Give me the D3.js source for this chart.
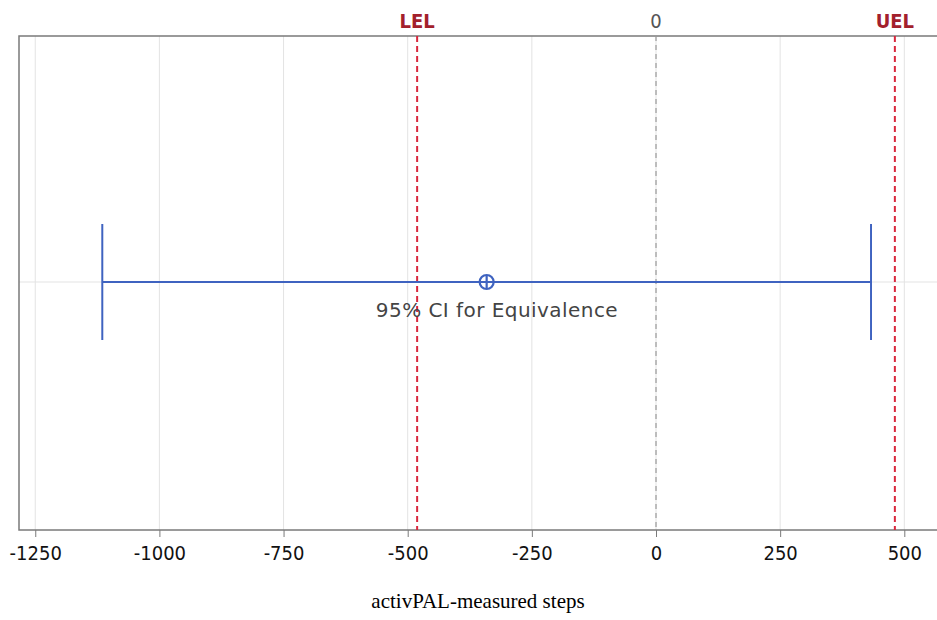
<!DOCTYPE html>
<meta charset="utf-8">
<style>body{margin:0;background:#fff}</style>
<svg width="937" height="620"></svg>
<script src="https://d3js.org/d3.v7.min.js"></script>
<script>
// equivalence test, activPAL steps
var ticks = [-1250, -1000, -750, -500, -250, 0, 250, 500];
var limits = [{name: "LEL", value: -481}, {name: "UEL", value: 481}];
var ci = [-1115, 433];
var estimate = -341;
var ciLabel = "95% CI for Equivalence";
var xTitle = "activPAL-measured steps";

var svg = d3.select("svg"),
    pLeft = 19, pRight = 960, pTop = 36, pBottom = 530,
    midY = 282;
var condensed = "'DejaVu Sans Condensed', 'DejaVu Sans', sans-serif";

var x = d3.scaleLinear()
    .domain([(pLeft - 656) / 0.4966, (pRight - 656) / 0.4966])
    .range([pLeft, pRight]);

// grid
svg.append("g").selectAll("line").data(ticks).enter().append("line")
    .attr("x1", function(d) { return x(d); }).attr("x2", function(d) { return x(d); })
    .attr("y1", pTop).attr("y2", pBottom)
    .attr("stroke", "#e3e3e3").attr("stroke-width", 1);
svg.append("line")
    .attr("x1", pLeft).attr("x2", pRight).attr("y1", midY).attr("y2", midY)
    .attr("stroke", "#e3e3e3");

// frame
svg.append("rect")
    .attr("x", pLeft).attr("y", pTop).attr("width", pRight - pLeft).attr("height", pBottom - pTop)
    .attr("fill", "none").attr("stroke", "#7a7a7a").attr("stroke-width", 1.5);

// bottom axis
var axis = d3.axisBottom(x).tickValues(ticks).tickFormat(d3.format("d")).tickSize(7).tickPadding(9);
var ax = svg.append("g").attr("transform", "translate(0," + pBottom + ")").call(axis);
ax.select(".domain").remove();
ax.selectAll(".tick line").attr("stroke", "#7a7a7a");
ax.selectAll(".tick text")
    .attr("fill", "#111")
    .style("font-family", condensed)
    .style("font-size", "20px")
    .text(function(d) { return String(d); });

// zero line
svg.append("line")
    .attr("x1", x(0)).attr("x2", x(0)).attr("y1", pTop).attr("y2", pBottom)
    .attr("stroke", "#9a9a9a").attr("stroke-width", 1.2).attr("stroke-dasharray", "5,4");
svg.append("text").attr("x", x(0)).attr("y", 28)
    .attr("text-anchor", "middle").attr("fill", "#555")
    .style("font-family", condensed)
    .style("font-size", "20px").text("0");

// equivalence limits
var lim = svg.append("g").selectAll("g").data(limits).enter().append("g");
lim.append("line")
    .attr("x1", function(d) { return x(d.value); }).attr("x2", function(d) { return x(d.value); })
    .attr("y1", pTop).attr("y2", pBottom)
    .attr("stroke", "#d8283d").attr("stroke-width", 2).attr("stroke-dasharray", "6,4");
lim.append("text")
    .attr("x", function(d) { return x(d.value); }).attr("y", 28)
    .attr("text-anchor", "middle").attr("fill", "#a3202c")
    .style("font-family", condensed)
    .style("font-size", "20px").style("font-weight", "bold")
    .text(function(d) { return d.name; });

// CI
var blue = "#3f63c0";
svg.append("line")
    .attr("x1", x(ci[0])).attr("x2", x(ci[1])).attr("y1", midY).attr("y2", midY)
    .attr("stroke", blue).attr("stroke-width", 2);
svg.append("g").selectAll("line").data(ci).enter().append("line")
    .attr("x1", function(d) { return x(d); }).attr("x2", function(d) { return x(d); })
    .attr("y1", 224).attr("y2", 340)
    .attr("stroke", blue).attr("stroke-width", 2);

var pt = svg.append("g").attr("transform", "translate(" + x(estimate) + "," + midY + ")");
pt.append("circle").attr("r", 7).attr("fill", "none").attr("stroke", blue).attr("stroke-width", 2.2);
pt.append("path").attr("d", "M-7,0H7M0,-7V7").attr("stroke", blue).attr("stroke-width", 2.2);

svg.append("text")
    .attr("x", 497).attr("y", 317)
    .attr("text-anchor", "middle").attr("fill", "#444")
    .style("font-family", "'DejaVu Sans', sans-serif").style("font-size", "20px")
    .style("letter-spacing", "0.45px")
    .text(ciLabel);

// x title
svg.append("text")
    .attr("x", 478).attr("y", 608)
    .attr("text-anchor", "middle").attr("fill", "#000")
    .style("font-family", "'Liberation Serif', 'Times New Roman', serif").style("font-size", "21px")
    .text(xTitle);
</script>
